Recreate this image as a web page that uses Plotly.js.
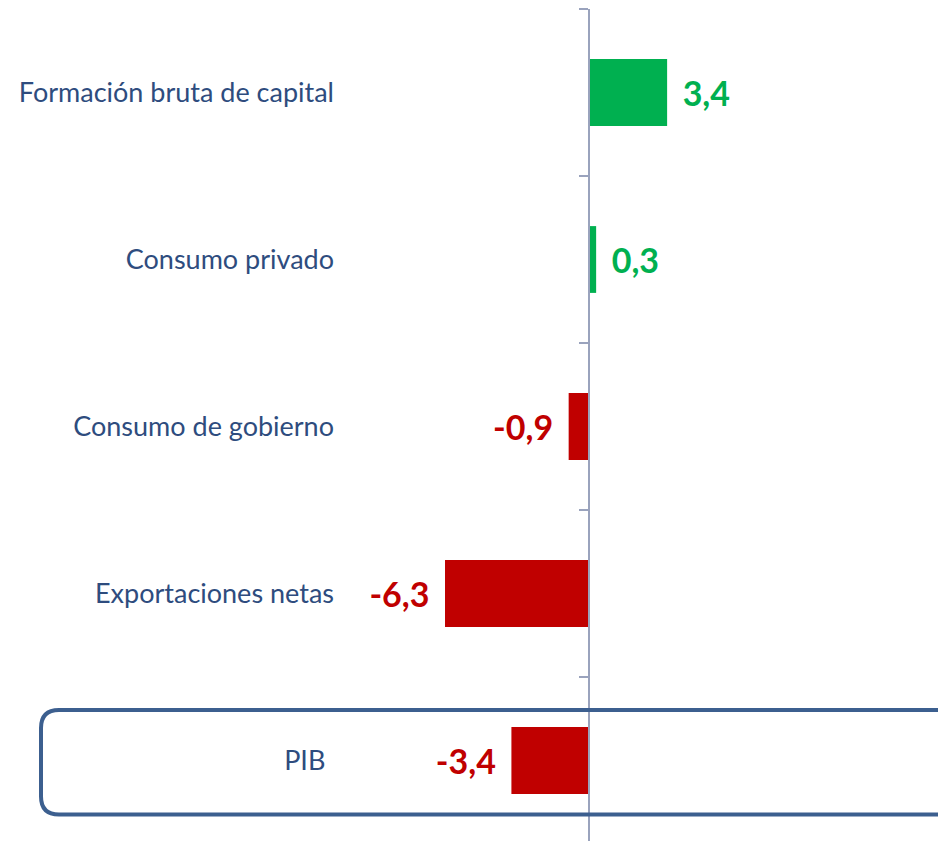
<!DOCTYPE html>
<html>
<head>
<meta charset="utf-8">
<script src="https://cdn.plot.ly/plotly-3.0.1.min.js"></script>
<style>html,body{margin:0;padding:0;background:#fff;}#chart{width:938px;height:841px;}</style>
</head>
<body>
<div id="chart"></div>
<script>
const categories = ["Formación bruta de capital", "Consumo privado", "Consumo de gobierno", "Exportaciones netas", "PIB"];
const values = [3.4, 0.3, -0.9, -6.3, -3.4];
const tickLabels = ["Formación bruta de capital", "Consumo privado", "Consumo de gobierno", "Exportaciones netas", "PIB\u00a0\u200a"];

const GREEN = "#00B050", RED = "#C00000";
const colors = values.map(v => v >= 0 ? GREEN : RED);
const PAD = "\u00a0\u2009";
const labels = values.map(v => {
  const s = v.toFixed(1).replace(".", ",");
  return v >= 0 ? PAD + s : s + PAD;
});

const W = 938, H = 841, L = 340, T = 9;
const plotW = W - L, plotH = H - T;
const px = x => (x - L) / plotW;
const py = y => (H - y) / plotH;

function roundedRect(x0, y0, x1, y1, r) {
  const X0 = px(x0), X1 = px(x1), YT = py(y0), YB = py(y1);
  const rx = r / plotW, ry = r / plotH;
  return `M ${X0+rx} ${YT} L ${X1-rx} ${YT} Q ${X1} ${YT} ${X1} ${YT-ry} L ${X1} ${YB+ry} Q ${X1} ${YB} ${X1-rx} ${YB} ` +
         `L ${X0+rx} ${YB} Q ${X0} ${YB} ${X0} ${YB+ry} L ${X0} ${YT-ry} Q ${X0} ${YT} ${X0+rx} ${YT} Z`;
}

const traces = [
  {
    type: "bar", orientation: "h",
    x: values, y: categories,
    marker: {color: colors, line: {width: 0}},
    width: 0.4,
    text: labels,
    textposition: "outside",
    constraintext: "none",
    cliponaxis: false,
    textfont: {family: "Lato, sans-serif", size: 34, color: colors, weight: "bold"},
    hoverinfo: "skip",
    xaxis: "x", yaxis: "y"
  },
  {
    type: "scatter", mode: "markers",
    x: categories.map(() => 0), y: categories,
    marker: {opacity: 0, size: 1},
    hoverinfo: "skip", showlegend: false,
    xaxis: "x", yaxis: "y2"
  }
];

const XMIN = -10.886, XMAX = 15.23;
const zeroPos = (0 - XMIN) / (XMAX - XMIN);
const YR = [4.482, -0.5];

const layout = {
  width: W, height: H,
  margin: {l: L, r: 0, t: T, b: 0, pad: 0},
  paper_bgcolor: "#ffffff", plot_bgcolor: "#ffffff",
  showlegend: false,
  xaxis: {range: [XMIN, XMAX], visible: false, showgrid: false, zeroline: false, fixedrange: true},
  yaxis: {
    type: "category",
    categoryorder: "array", categoryarray: categories,
    range: YR,
    tickvals: categories, ticktext: tickLabels,
    showline: false, showgrid: false, zeroline: false, ticks: "",
    tickfont: {family: "Lato, sans-serif", size: 27, color: "#2E4C7E"},
    ticklabelstandoff: 5
  },
  yaxis2: {
    type: "category", overlaying: "y", anchor: "free", position: zeroPos, side: "left",
    categoryorder: "array", categoryarray: categories,
    range: YR,
    showline: true, linecolor: "#9AA3BD", linewidth: 2,
    ticks: "outside", tickson: "boundaries", ticklen: 9, tickwidth: 2, tickcolor: "#9AA3BD",
    showticklabels: false, showgrid: false, zeroline: false
  },
  shapes: [{
    type: "path", xref: "paper", yref: "paper",
    path: roundedRect(41, 710, 975, 814.5, 18),
    line: {color: "#3C5F8F", width: 4},
    fillcolor: "rgba(0,0,0,0)",
    layer: "above"
  }],
  font: {family: "Lato, sans-serif"}
};

Plotly.newPlot("chart", traces, layout, {displayModeBar: false, staticPlot: true});
</script>
</body>
</html>
